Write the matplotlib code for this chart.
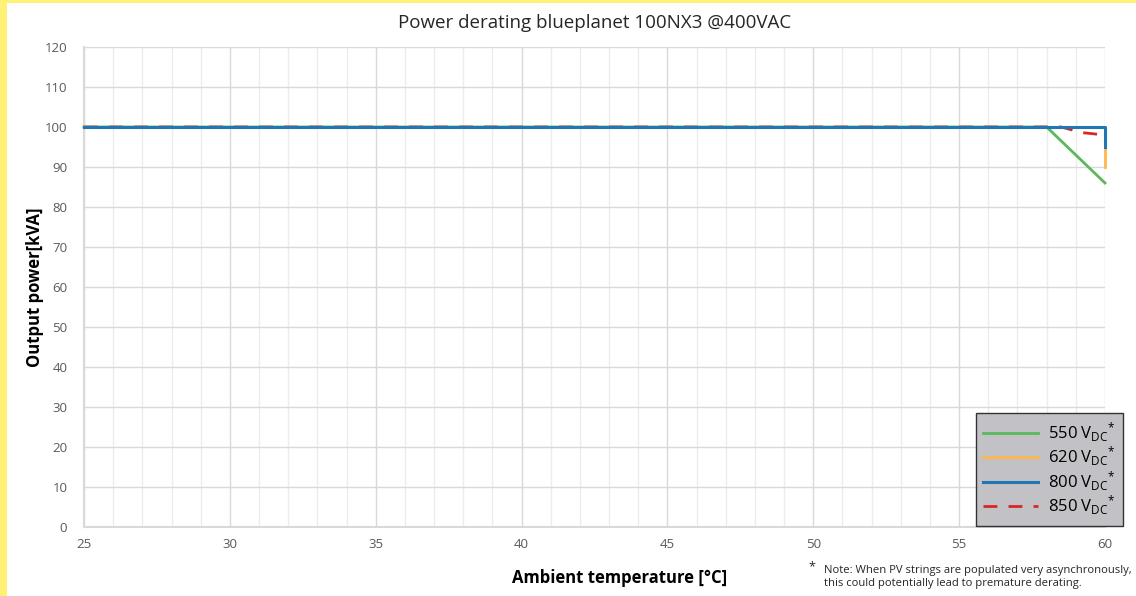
import matplotlib

matplotlib.use("Agg")

import matplotlib.pyplot as plt
import numpy as np

plt.rcParams["font.family"] = ["Open Sans", "DejaVu Sans"]
plt.rcParams["mathtext.fontset"] = "custom"
plt.rcParams["mathtext.rm"] = "Open Sans"
plt.rcParams["mathtext.it"] = "Open Sans"

# data
temp_550 = [25, 58, 60]
power_550 = [100, 100, 86]
temp_620 = [25, 60, 60]
power_620 = [100, 100, 90]
temp_800 = [25, 60, 60]
power_800 = [100, 100, 95]
temp_850 = [25, 58.5, 59.2, 60]
power_850 = [100, 100, 98.6, 98]

labels = ["550", "620", "800", "850"]
colors = ["#5cb85c", "#ffb74d", "#1f77b4", "#d62728"]


def lab(v):
    return f"{v} V$_{{\\mathrm{{DC}}}}$$^{{*}}$"


fig = plt.figure(figsize=(11.36, 5.96), dpi=100, facecolor="#fff176")
# white page on yellow border
fig.patches.append(plt.Rectangle((7 / 1136, 0), 1, 1 - 3 / 596,
                                 transform=fig.transFigure, facecolor="white",
                                 edgecolor="none", zorder=-10))
ax = fig.add_axes([84 / 1136, 1 - 527 / 596, (1105 - 84) / 1136, (527 - 47) / 596])
ax.set_facecolor("white")

ax.plot(temp_550, power_550, color=colors[0], lw=2, label=lab(labels[0]), zorder=3, clip_on=False)
ax.plot(temp_620, power_620, color=colors[1], lw=2, label=lab(labels[1]), zorder=3, clip_on=False)
ax.plot(temp_800, power_800, color=colors[2], lw=2.2, label=lab(labels[2]), zorder=5, clip_on=False)
ax.plot(temp_850, power_850, color=colors[3], lw=2, ls=(0, (5, 4)), label=lab(labels[3]),
        zorder=4, clip_on=False)

ax.set_xlim(25, 60)
ax.set_ylim(0, 120)
ax.set_xticks(np.arange(25, 61, 5))
ax.set_yticks(np.arange(0, 121, 10))
ax.set_xticks(np.arange(25, 61, 1), minor=True)
ax.grid(which="major", color="#d9d9d9", lw=1)
ax.grid(which="minor", axis="x", color="#ececec", lw=1)
ax.set_axisbelow(True)
ax.tick_params(which="both", length=0, colors="#595959", labelsize=9.5, pad=8)
ax.tick_params(axis="y", pad=12)
for side in ["top", "right"]:
    ax.spines[side].set_visible(False)
for side in ["left", "bottom"]:
    ax.spines[side].set_color("#d9d9d9")
    ax.spines[side].set_linewidth(1.5)

ax.set_title("Power derating blueplanet 100NX3 @400VAC", fontsize=13.5, color="#262626", pad=14)
ax.set_xlabel("Ambient temperature [°C]", fontsize=12, fontweight="bold")
ax.xaxis.set_label_coords((620 - 84) / (1105 - 84), -(569 - 527) / (527 - 47), transform=ax.transAxes)
ax.set_ylabel("Output power[kVA]", fontsize=12, fontweight="bold")
ax.yaxis.set_label_coords(-(84 - 44) / (1105 - 84), 0.5, transform=ax.transAxes)

leg = ax.legend(loc="lower right", bbox_to_anchor=(1123 / 1136, 1 - 526 / 596),
                bbox_transform=fig.transFigure, fontsize=12, frameon=True,
                fancybox=False, handlelength=3.3, labelspacing=0.0,
                borderpad=0.45, handletextpad=0.6, borderaxespad=0)
leg.get_frame().set_facecolor("#c2c2c6")
leg.get_frame().set_edgecolor("#333333")
leg.get_frame().set_alpha(1)

fig.text(808 / 1136, 1 - 567 / 596, "*", fontsize=9, color="#262626", va="center")
fig.text(824 / 1136, 1 - 577 / 596,
         "Note: When PV strings are populated very asynchronously,\n"
         "this could potentially lead to premature derating.",
         fontsize=8.1, color="#262626", va="center", linespacing=1.2)

fig.savefig("out.png", dpi=100, facecolor=fig.get_facecolor())
